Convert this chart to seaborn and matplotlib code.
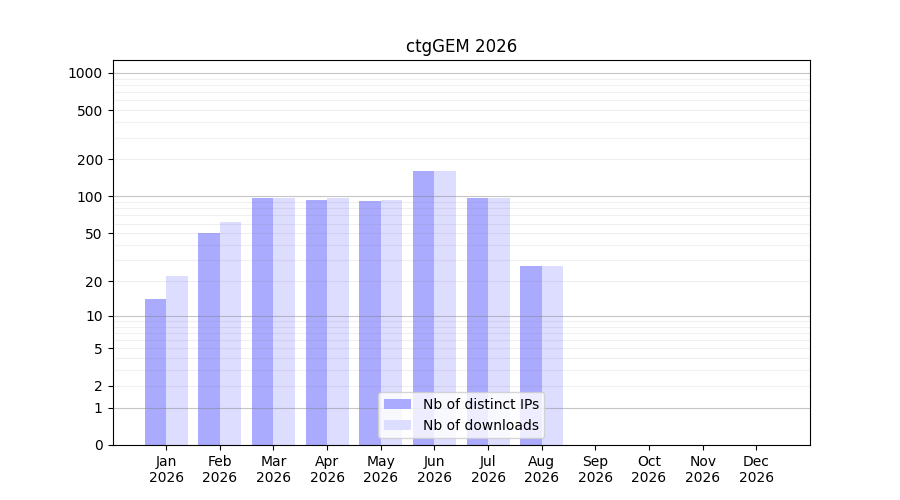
import numpy as np
import pandas as pd
import matplotlib
matplotlib.use('Agg')
import matplotlib.pyplot as plt
from matplotlib.ticker import FixedLocator, FixedFormatter, NullFormatter
import seaborn as sns

months = ['Jan', 'Feb', 'Mar', 'Apr', 'May', 'Jun', 'Jul', 'Aug', 'Sep', 'Oct', 'Nov', 'Dec']
year = '2026'
distinct_ips = [14, 50, 97, 94, 92, 160, 97, 27, 0, 0, 0, 0]
downloads = [22, 62, 97, 97, 94, 160, 97, 27, 0, 0, 0, 0]
series_names = ['Nb of distinct IPs', 'Nb of downloads']

labels = [m + '\n' + year for m in months]
df = pd.DataFrame({
    'month': labels * 2,
    'value': distinct_ips + downloads,
    'kind': [series_names[0]] * 12 + [series_names[1]] * 12,
})

fig, ax = plt.subplots(figsize=(9, 5), dpi=100)
sns.barplot(data=df, x='month', y='value', hue='kind', ax=ax,
            palette=['#aaaaff', '#ddddff'], saturation=1, width=0.8,
            errorbar=None, linewidth=0)

ax.set_yscale('function', functions=(lambda v: np.log10(1 + np.maximum(v, 0)),
                                     lambda v: 10 ** v - 1))
ax.set_ylim(0, 1270)
ax.set_xlim(-1, 12)
ax.set_xlabel('')
ax.set_ylabel('')
ax.set_title('ctgGEM 2026')

major = [0, 1, 2, 5, 10, 20, 50, 100, 200, 500, 1000]
minor = [3, 4, 6, 7, 8, 9, 30, 40, 60, 70, 80, 90, 300, 400, 600, 700, 800, 900]
ax.yaxis.set_major_locator(FixedLocator(major))
ax.yaxis.set_major_formatter(FixedFormatter([str(v) for v in major]))
ax.yaxis.set_minor_locator(FixedLocator(minor))
ax.yaxis.set_minor_formatter(NullFormatter())
ax.tick_params(axis='y', which='minor', length=0)

ax.set_axisbelow(False)
ax.grid(True, axis='y', which='major', color='gray', alpha=0.45, linewidth=0.8)
ax.grid(True, axis='y', which='minor', color='gray', alpha=0.12, linewidth=0.8)
for v, t in zip(major, ax.yaxis.get_major_ticks()):
    if v not in (1, 10, 100, 1000):
        t.gridline.set_alpha(0.12)

sns.move_legend(ax, 'lower center', title=None)

fig.savefig('out.png', dpi=100)
